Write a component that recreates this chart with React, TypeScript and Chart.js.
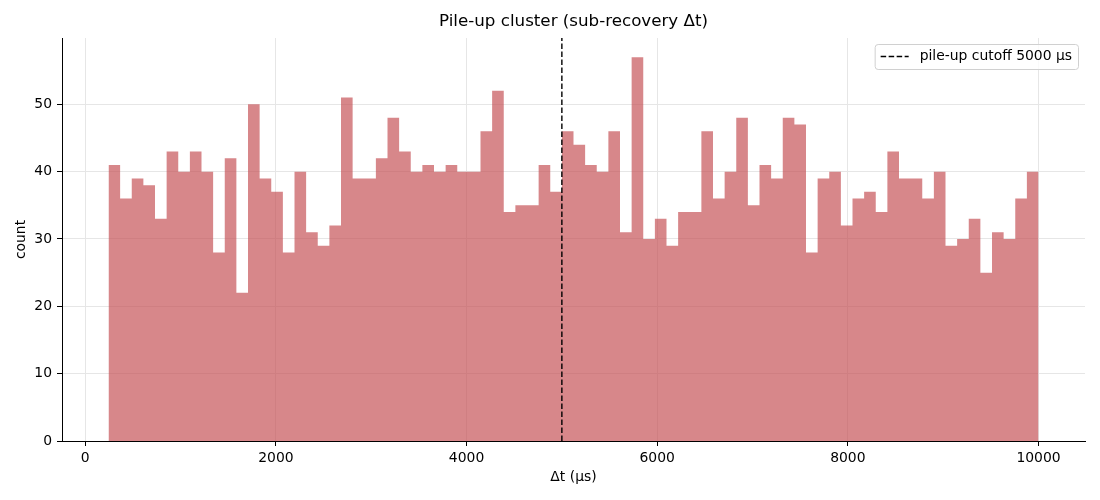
import { useEffect, useRef } from "react"
import { Chart, registerables } from "chart.js"

Chart.register(...registerables)

// histogram range (µs) and counts per bin
const binLow = 244
const binHigh = 10000
const counts = [
  41, 36, 39, 38, 33, 43, 40, 43, 40, 28,
  42, 22, 50, 39, 37, 28, 40, 31, 29, 32,
  51, 39, 39, 42, 48, 43, 40, 41, 40, 41,
  40, 40, 46, 52, 34, 35, 35, 41, 37, 46,
  44, 41, 40, 46, 31, 57, 30, 33, 29, 34,
  34, 46, 36, 40, 48, 35, 41, 39, 48, 47,
  28, 39, 40, 32, 36, 37, 34, 43, 39, 39,
  36, 40, 29, 30, 33, 25, 31, 30, 36, 40,
]
const cutoffUs = 5000
const xTicks = [0, 2000, 4000, 6000, 8000, 10000]
const yTicks = [0, 10, 20, 30, 40, 50]

const titleText = "Pile-up cluster (sub-recovery Δt)"
const legendText = "pile-up cutoff 5000 µs"
const FONT = "DejaVu Sans"
const SIZE = 13.9

// title centred over the plot area, like matplotlib
const titlePlugin = {
  id: "plotTitle",
  afterDraw(chart: Chart) {
    const { ctx, chartArea } = chart
    ctx.save()
    ctx.font = `16.7px "${FONT}"`
    ctx.fillStyle = "#000"
    ctx.textAlign = "center"
    ctx.textBaseline = "middle"
    ctx.fillText(titleText, (chartArea.left + chartArea.right) / 2, 22)
    ctx.restore()
  },
}

// legend box in the upper right corner of the plot
const legendPlugin = {
  id: "boxLegend",
  afterDraw(chart: Chart) {
    const { ctx, chartArea } = chart
    ctx.save()
    ctx.font = `${SIZE}px "${FONT}"`
    const textW = ctx.measureText(legendText).width
    const w = 45 + textW + 6
    const h = 25
    const x = chartArea.right - 7 - w
    const y = chartArea.top + 6
    ctx.beginPath()
    ctx.roundRect(x + 0.5, y + 0.5, w, h, 3)
    ctx.fillStyle = "rgba(255,255,255,0.8)"
    ctx.fill()
    ctx.strokeStyle = "#d0d0d0"
    ctx.lineWidth = 1
    ctx.stroke()
    const midY = y + h / 2
    ctx.beginPath()
    ctx.setLineDash([5.5, 2.5])
    ctx.strokeStyle = "#000"
    ctx.lineWidth = 1.4
    ctx.moveTo(x + 6, midY)
    ctx.lineTo(x + 34, midY)
    ctx.stroke()
    ctx.setLineDash([])
    ctx.fillStyle = "#000"
    ctx.textBaseline = "middle"
    ctx.fillText(legendText, x + 45, midY)
    ctx.restore()
  },
}

export default function App() {
  const chartRef = useRef<HTMLCanvasElement>(null)
  const chartInstance = useRef<Chart | null>(null)

  useEffect(() => {
    if (!chartRef.current) return
    if (chartInstance.current) chartInstance.current.destroy()
    const ctx = chartRef.current.getContext("2d")
    if (!ctx) return

    // step points: each bin's count starts at its left edge
    const width = (binHigh - binLow) / counts.length
    const steps = counts.map((c, i) => ({ x: binLow + i * width, y: c }))
    steps.push({ x: binHigh, y: counts[counts.length - 1] })

    const span = binHigh - binLow
    const xMin = binLow - span * 0.05
    const xMax = binHigh + span * 0.05
    const yMax = Math.max(...counts) * 1.05

    chartInstance.current = new Chart(ctx, {
      type: "line",
      data: {
        datasets: [
          {
            label: "cutoff",
            data: [
              { x: cutoffUs, y: 0 },
              { x: cutoffUs, y: yMax },
            ],
            borderColor: "#000",
            borderWidth: 1.4,
            borderDash: [5.5, 2.5],
            pointRadius: 0,
            fill: false,
            order: 0,
          },
          {
            label: "hist",
            data: steps,
            stepped: "before",
            borderWidth: 0,
            borderColor: "rgba(0,0,0,0)",
            backgroundColor: "rgba(196, 78, 82, 0.68)",
            pointRadius: 0,
            fill: "origin",
            order: 1,
          },
        ],
      },
      options: {
        animation: false,
        responsive: true,
        maintainAspectRatio: false,
        layout: { padding: { top: 38, right: 15, left: 0, bottom: 0 } },
        plugins: {
          legend: { display: false },
          tooltip: { enabled: false },
        },
        scales: {
          x: {
            type: "linear",
            min: xMin,
            max: xMax,
            afterBuildTicks: (scale) => {
              scale.ticks = xTicks.map((v) => ({ value: v }))
            },
            afterFit: (scale) => {
              scale.height = 59
            },
            grid: {
              color: "#e6e6e6",
              lineWidth: 1,
              tickColor: "#000",
              tickLength: 5,
            },
            border: { color: "#000", width: 1 },
            ticks: {
              color: "#000",
              padding: 4,
              maxRotation: 0,
              font: { family: FONT, size: SIZE },
              callback: (v) => String(v),
            },
            title: {
              display: true,
              text: "Δt (µs)",
              color: "#000",
              font: { family: FONT, size: SIZE },
              padding: { top: 0, bottom: 14 },
            },
          },
          y: {
            min: 0,
            max: yMax,
            afterBuildTicks: (scale) => {
              scale.ticks = yTicks.map((v) => ({ value: v }))
            },
            afterFit: (scale) => {
              scale.width = 62
            },
            grid: {
              color: "#e6e6e6",
              lineWidth: 1,
              tickColor: "#000",
              tickLength: 5,
            },
            border: { color: "#000", width: 1 },
            ticks: {
              color: "#000",
              padding: 5,
              font: { family: FONT, size: SIZE },
            },
            title: {
              display: true,
              text: "count",
              color: "#000",
              font: { family: FONT, size: SIZE },
              padding: { top: 13, bottom: 0 },
            },
          },
        },
      },
      plugins: [titlePlugin, legendPlugin],
    })

    return () => {
      if (chartInstance.current) {
        chartInstance.current.destroy()
        chartInstance.current = null
      }
    }
  }, [])

  return (
    <div style={{ position: "fixed", left: 0, top: 0, width: 1100, height: 500, background: "#fff" }}>
      <canvas ref={chartRef} />
    </div>
  )
}
